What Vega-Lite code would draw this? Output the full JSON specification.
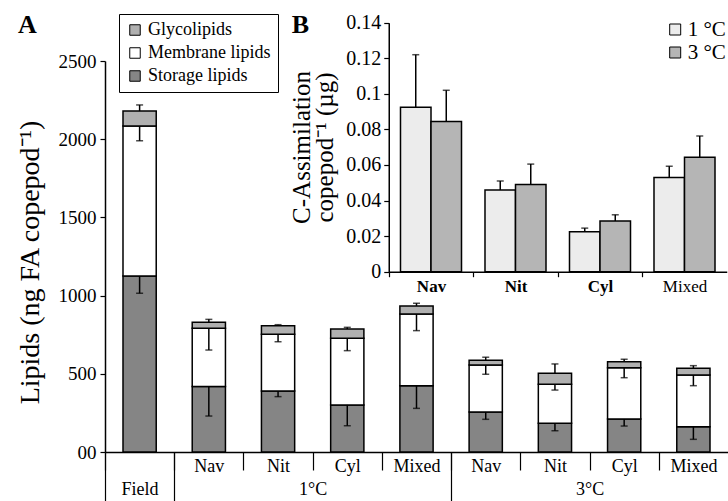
{
  "$schema": "https://vega.github.io/schema/vega-lite/v6.json",
  "width": 623,
  "height": 392,
  "autosize": "none",
  "padding": {"left": 105, "top": 60, "right": 0, "bottom": 49},
  "background": "white",
  "config": {
    "font": "Liberation Serif",
    "view": {"stroke": null},
    "axis": {"labelColor": "black", "titleColor": "black", "domainColor": "black", "tickColor": "black", "grid": false, "labelFont": "Liberation Serif", "titleFont": "Liberation Serif"},
    "legend": {"labelColor": "black", "labelFont": "Liberation Serif"}
  },
  "datasets": {
    "lipids": [
      {"cat": "Field", "class": "Storage lipids", "value": 1125},
      {"cat": "Field", "class": "Membrane lipids", "value": 959},
      {"cat": "Field", "class": "Glycolipids", "value": 96},
      {"cat": "Nav 1", "class": "Storage lipids", "value": 418},
      {"cat": "Nav 1", "class": "Membrane lipids", "value": 373},
      {"cat": "Nav 1", "class": "Glycolipids", "value": 38},
      {"cat": "Nit 1", "class": "Storage lipids", "value": 390},
      {"cat": "Nit 1", "class": "Membrane lipids", "value": 363},
      {"cat": "Nit 1", "class": "Glycolipids", "value": 55},
      {"cat": "Cyl 1", "class": "Storage lipids", "value": 301},
      {"cat": "Cyl 1", "class": "Membrane lipids", "value": 426},
      {"cat": "Cyl 1", "class": "Glycolipids", "value": 59},
      {"cat": "Mixed 1", "class": "Storage lipids", "value": 424},
      {"cat": "Mixed 1", "class": "Membrane lipids", "value": 458},
      {"cat": "Mixed 1", "class": "Glycolipids", "value": 52},
      {"cat": "Nav 3", "class": "Storage lipids", "value": 256},
      {"cat": "Nav 3", "class": "Membrane lipids", "value": 300},
      {"cat": "Nav 3", "class": "Glycolipids", "value": 30},
      {"cat": "Nit 3", "class": "Storage lipids", "value": 184},
      {"cat": "Nit 3", "class": "Membrane lipids", "value": 249},
      {"cat": "Nit 3", "class": "Glycolipids", "value": 70},
      {"cat": "Cyl 3", "class": "Storage lipids", "value": 211},
      {"cat": "Cyl 3", "class": "Membrane lipids", "value": 328},
      {"cat": "Cyl 3", "class": "Glycolipids", "value": 38},
      {"cat": "Mixed 3", "class": "Storage lipids", "value": 162},
      {"cat": "Mixed 3", "class": "Membrane lipids", "value": 330},
      {"cat": "Mixed 3", "class": "Glycolipids", "value": 43}
    ],
    "lipidErr": [
      {"cat": "Field", "class": "Storage lipids", "top": 1125, "end": 1015},
      {"cat": "Field", "class": "Membrane lipids", "top": 2084, "end": 1990},
      {"cat": "Field", "class": "Glycolipids", "top": 2180, "end": 2219},
      {"cat": "Nav 1", "class": "Storage lipids", "top": 418, "end": 230},
      {"cat": "Nav 1", "class": "Membrane lipids", "top": 791, "end": 652},
      {"cat": "Nav 1", "class": "Glycolipids", "top": 829, "end": 848},
      {"cat": "Nit 1", "class": "Storage lipids", "top": 390, "end": 354},
      {"cat": "Nit 1", "class": "Membrane lipids", "top": 753, "end": 705},
      {"cat": "Nit 1", "class": "Glycolipids", "top": 808, "end": 814},
      {"cat": "Cyl 1", "class": "Storage lipids", "top": 301, "end": 168},
      {"cat": "Cyl 1", "class": "Membrane lipids", "top": 727, "end": 648},
      {"cat": "Cyl 1", "class": "Glycolipids", "top": 786, "end": 797},
      {"cat": "Mixed 1", "class": "Storage lipids", "top": 424, "end": 279},
      {"cat": "Mixed 1", "class": "Membrane lipids", "top": 882, "end": 776},
      {"cat": "Mixed 1", "class": "Glycolipids", "top": 934, "end": 951},
      {"cat": "Nav 3", "class": "Storage lipids", "top": 256, "end": 209},
      {"cat": "Nav 3", "class": "Membrane lipids", "top": 556, "end": 497},
      {"cat": "Nav 3", "class": "Glycolipids", "top": 586, "end": 606},
      {"cat": "Nit 3", "class": "Storage lipids", "top": 184, "end": 136},
      {"cat": "Nit 3", "class": "Membrane lipids", "top": 433, "end": 396},
      {"cat": "Nit 3", "class": "Glycolipids", "top": 503, "end": 563},
      {"cat": "Cyl 3", "class": "Storage lipids", "top": 211, "end": 166},
      {"cat": "Cyl 3", "class": "Membrane lipids", "top": 539, "end": 475},
      {"cat": "Cyl 3", "class": "Glycolipids", "top": 577, "end": 593},
      {"cat": "Mixed 3", "class": "Storage lipids", "top": 162, "end": 81},
      {"cat": "Mixed 3", "class": "Membrane lipids", "top": 492, "end": 424},
      {"cat": "Mixed 3", "class": "Glycolipids", "top": 535, "end": 552}
    ],
    "assim": [
      {"food": "Nav", "temp": "1 °C", "mean": 0.0925, "hi": 0.122},
      {"food": "Nav", "temp": "3 °C", "mean": 0.0845, "hi": 0.102},
      {"food": "Nit", "temp": "1 °C", "mean": 0.046, "hi": 0.051},
      {"food": "Nit", "temp": "3 °C", "mean": 0.049, "hi": 0.0605},
      {"food": "Cyl", "temp": "1 °C", "mean": 0.0225, "hi": 0.0245},
      {"food": "Cyl", "temp": "3 °C", "mean": 0.0285, "hi": 0.032},
      {"food": "Mixed", "temp": "1 °C", "mean": 0.053, "hi": 0.0593},
      {"food": "Mixed", "temp": "3 °C", "mean": 0.0643, "hi": 0.0763}
    ]
  },
  "layer": [
    {
      "layer": [
        {
          "data": {"name": "lipids"},
          "mark": {"type": "bar", "stroke": "black", "strokeWidth": 1.5},
          "encoding": {
            "x": {
              "field": "cat", "type": "nominal",
              "scale": {"domain": ["Field", "Nav 1", "Nit 1", "Cyl 1", "Mixed 1", "Nav 3", "Nit 3", "Cyl 3", "Mixed 3"], "paddingInner": 0.52, "paddingOuter": 0.26},
              "axis": {
                "orient": "bottom", "labelAngle": 0, "tickBand": "center", "tickOffset": -34.6, "tickSize": 18, "tickWidth": 1.2,
                "domainWidth": 1.5, "labelFontSize": 18, "labelPadding": -13, "labelOffset": 34.6,
                "labelExpr": "(!datum.value || datum.value == 'Field') ? '' : split(datum.value, ' ')[0]",
                "title": "A", "titleX": -78, "titleY": -420, "titleFontSize": 26, "titleFontWeight": "bold",
                "titleAlign": "center", "titleBaseline": "alphabetic", "titleAngle": 0
              }
            },
            "y": {
              "field": "value", "type": "quantitative", "stack": "zero",
              "scale": {"domain": [0, 2500], "range": [392, 1], "nice": false},
              "axis": {
                "orient": "left", "values": [0, 500, 1000, 1500, 2000, 2500], "format": "d",
                "labelExpr": "datum.value == 0 ? '00' : datum.label",
                "tickSize": 5, "tickWidth": 1.2, "domainWidth": 1.5, "labelFontSize": 19, "labelPadding": 4,
                "title": "Lipids (ng FA copepod⁻¹)", "titleFontSize": 28, "titleFontWeight": "normal",
                "titleX": -61, "titleY": 202, "titleAngle": -90, "titleAlign": "center", "titleBaseline": "bottom"
              }
            },
            "fill": {
              "field": "class", "type": "nominal",
              "scale": {"domain": ["Glycolipids", "Membrane lipids", "Storage lipids"], "range": ["#b0b0b0", "#ffffff", "#858585"]},
              "legend": {
                "orient": "none", "legendX": 14, "legendY": -46, "title": null, "strokeColor": "black", "fillColor": "white",
                "padding": 7, "symbolType": "square", "symbolSize": 110, "symbolStrokeColor": "black", "symbolStrokeWidth": 1,
                "labelFontSize": 18, "rowPadding": 5
              }
            },
            "order": {"field": "class", "sort": "descending"}
          }
        },
        {
          "data": {"name": "lipidErr"},
          "layer": [
            {
              "mark": {"type": "rule", "color": "black", "strokeWidth": 1.5},
              "encoding": {
                "x": {
                  "field": "cat", "type": "nominal",
                  "scale": {"domain": ["Field", "Nav 1", "Nit 1", "Cyl 1", "Mixed 1", "Nav 3", "Nit 3", "Cyl 3", "Mixed 3"], "paddingInner": 0.52, "paddingOuter": 0.26},
                  "axis": {
                    "orient": "bottom", "labelAngle": 0, "tickBand": "center", "tickOffset": -34.6, "tickSize": 49, "tickWidth": 1.2, "domain": false,
                    "tickOpacity": {"condition": {"test": "datum.value == 'Field' || datum.value == 'Nav 1' || datum.value == 'Nav 3'", "value": 1}, "value": 0},
                    "labelFontSize": 18, "labelPadding": -21,
                    "labelOffset": {"condition": {"test": "datum.value == 'Field'", "value": 34.6}, "value": 0},
                    "labelExpr": "datum.value == 'Field' ? 'Field' : datum.value == 'Cyl 1' ? '1°C' : datum.value == 'Cyl 3' ? '3°C' : ''",
                    "title": null
                  }
                },
                "y": {"field": "top", "type": "quantitative"},
                "y2": {"field": "end"}
              }
            },
            {
              "mark": {"type": "tick", "color": "black", "thickness": 1.5, "size": 7, "orient": "horizontal"},
              "encoding": {
                "x": {"field": "cat", "type": "nominal"},
                "y": {"field": "end", "type": "quantitative"}
              }
            }
          ]
        }
      ],
      "resolve": {"scale": {"x": "independent"}}
    },
    {
      "data": {"name": "assim"},
      "layer": [
        {
          "mark": {"type": "bar", "stroke": "black", "strokeWidth": 1.5},
          "encoding": {
            "x": {
              "field": "food", "type": "nominal",
              "scale": {"domain": ["Nav", "Nit", "Cyl", "Mixed"], "range": [283.75, 621.75], "paddingInner": 0.278, "paddingOuter": 0.139},
              "axis": {
                "orient": "bottom", "offset": -180.3, "labelAngle": 0, "tickBand": "center", "tickOffset": -42.25, "tickSize": 5, "tickWidth": 1.2,
                "domainWidth": 1.5, "labelFontSize": 17, "labelPadding": 2, "labelOffset": 42.25,
                "labelFontWeight": {"condition": {"test": "datum.value == 'Mixed'", "value": "normal"}, "value": "bold"},
                "title": "B", "titleX": 195, "titleY": -239.7, "titleFontSize": 26, "titleFontWeight": "bold",
                "titleAlign": "center", "titleBaseline": "alphabetic", "titleAngle": 0
              }
            },
            "xOffset": {"field": "temp", "type": "nominal", "scale": {"domain": ["1 °C", "3 °C"], "paddingInner": 0, "paddingOuter": 0}},
            "y": {
              "field": "mean", "type": "quantitative",
              "scale": {"domain": [0, 0.14], "range": [211.7, -37.3], "nice": false},
              "axis": {
                "orient": "left", "offset": -283.75, "values": [0, 0.02, 0.04, 0.06, 0.08, 0.1, 0.12, 0.14],
                "labelExpr": "format(datum.value, '~g')", "tickSize": 5, "tickWidth": 1.2, "domainWidth": 1.5,
                "labelFontSize": 20, "labelPadding": 3,
                "title": ["C-Assimilation", "copepod⁻¹ (µg)"], "titleFontSize": 25, "titleLineHeight": 23, "titleFontWeight": "normal",
                "titleX": -74, "titleY": 87, "titleAngle": -90, "titleAlign": "center", "titleBaseline": "bottom"
              }
            },
            "fill": {
              "field": "temp", "type": "nominal",
              "scale": {"domain": ["1 °C", "3 °C"], "range": ["#ececec", "#b5b5b5"]},
              "legend": {
                "orient": "none", "legendX": 559.7, "legendY": -41, "title": null, "padding": 0,
                "symbolType": "square", "symbolSize": 121, "symbolStrokeColor": "black", "symbolStrokeWidth": 1,
                "labelFontSize": 21, "rowPadding": 1, "labelOffset": 2
              }
            }
          }
        },
        {
          "mark": {"type": "rule", "color": "black", "strokeWidth": 1.5},
          "encoding": {
            "x": {"field": "food", "type": "nominal"},
            "xOffset": {"field": "temp", "type": "nominal"},
            "y": {"field": "mean", "type": "quantitative"},
            "y2": {"field": "hi"}
          }
        },
        {
          "mark": {"type": "tick", "color": "black", "thickness": 1.5, "size": 7, "orient": "horizontal"},
          "encoding": {
            "x": {"field": "food", "type": "nominal"},
            "xOffset": {"field": "temp", "type": "nominal"},
            "y": {"field": "hi", "type": "quantitative"}
          }
        }
      ]
    }
  ],
  "resolve": {"scale": {"x": "independent", "y": "independent", "fill": "independent", "xOffset": "independent"}}
}
